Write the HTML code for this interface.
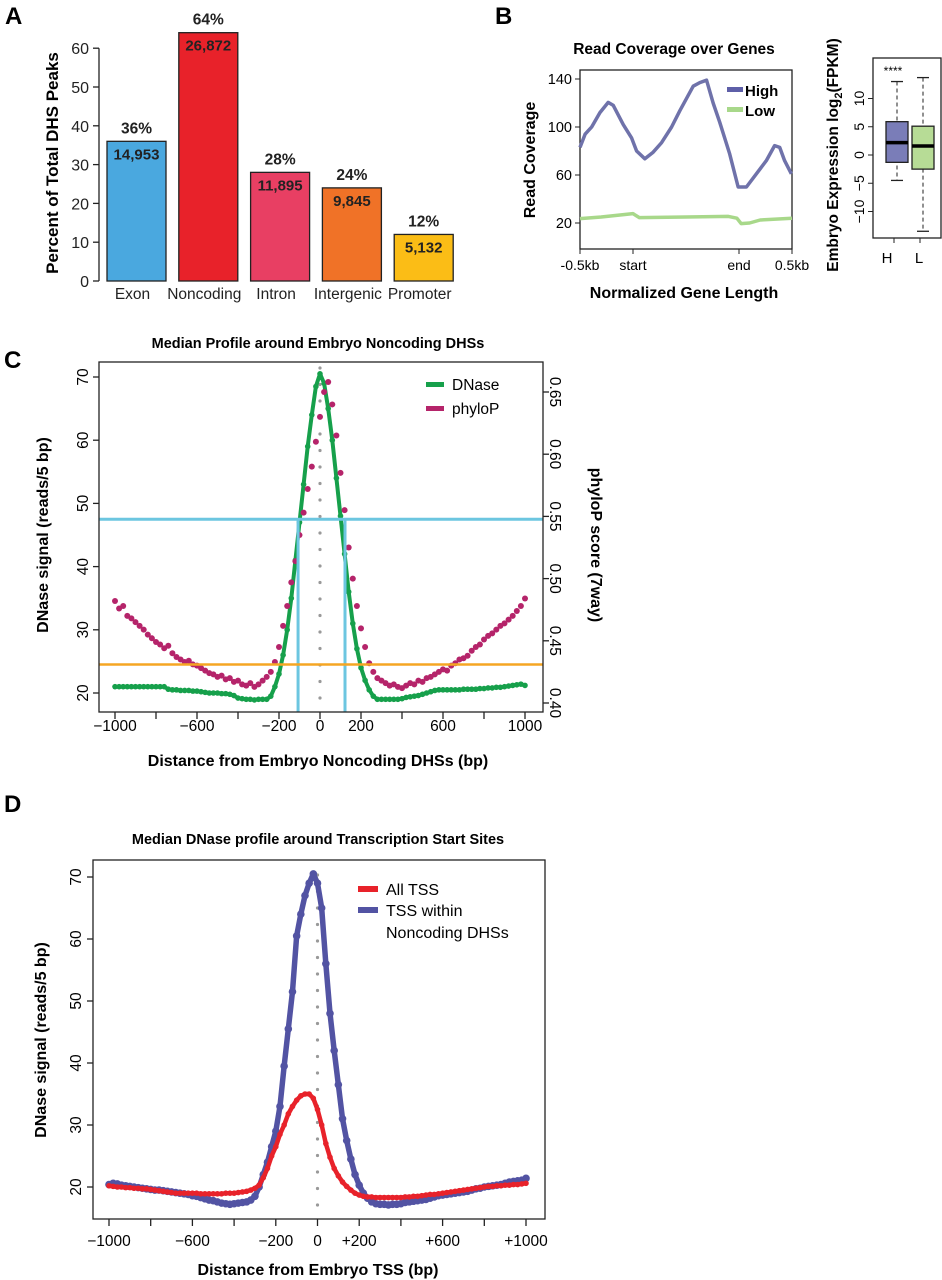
<!DOCTYPE html>
<html><head><meta charset="utf-8">
<style>
html,body{margin:0;padding:0;background:#fff;}
svg{display:block;font-family:"Liberation Sans",Arial,sans-serif;}
.b{font-weight:bold;}
</style></head>
<body>
<svg id="fig" width="942" height="1280" viewBox="0 0 942 1280" xmlns="http://www.w3.org/2000/svg">
<g id="pa"></g>
<g id="pb"></g>
<g id="pb2"></g>
<g id="pc"></g>
<g id="pd"></g>
</svg>
<script>
// ---------- Panel A data ----------
const aCategories = ["Exon","Noncoding","Intron","Intergenic","Promoter"];
const aPercents = [36,64,28,24,12];
const aCounts = ["14,953","26,872","11,895","9,845","5,132"];
const aColors = ["#4aa8df","#e8222a","#e83f63","#f07227","#fbbd16"];
const aTicks = [0,10,20,30,40,50,60];

// ---------- Panel B data ----------
const bHighPos = [0,0.024,0.055,0.094,0.133,0.157,0.204,0.243,0.267,0.306,0.345,0.385,0.432,0.471,0.534,0.565,0.597,0.628,0.659,0.706,0.746,0.785,0.832,0.879,0.918,0.942,0.965,0.997];
const bHighVals = [83,94,100,112,120.5,118,102,91,80,73.5,79,87,100,113.6,134,137,139,120,104,77.6,50,50,61,72,84.5,83,72,61];
const bLowPos = [0,0.1,0.25,0.28,0.5,0.7,0.74,0.76,0.8,0.85,1.0];
const bLowVals = [23.6,25,27.8,24.5,25,25.5,24,19.5,20,22.5,24];
const bYTicks = [20,60,100,140];
const bXTickPos = [0,0.25,0.75,1];
const bXTickLabels = ["-0.5kb","start","end","0.5kb"];
const boxGroups = ["H","L"];
const boxQ1 = [-1.3,-2.5];
const boxMed = [2.2,1.6];
const boxQ3 = [5.9,5.1];
const boxLow = [-4.5,-13.5];
const boxHigh = [13,13.7];
const boxColors = ["#7a7db8","#b7dc96"];
const boxTicks = [-10,-5,0,5,10];

// ---------- Panel C data ----------
const cDnase = [21,21,21,21,21,21,21,21,21,21,21,21,21,
20.6,20.5,20.5,20.4,20.4,20.4,20.3,20.3,20.2,20.1,
20,20,20,19.9,19.9,19.8,19.6,
19.2,19.1,19,19,18.9,19,19,19,
19.5,21,23,26,30,35,41,47,53,59,64,68.5,
70.5,
69,65,60,54,48,42,36,31,27,24,22,20.5,
19.5,19,19,19,19,19,19,19.1,
19.3,19.4,19.5,19.6,19.8,20,20.2,
20.4,20.5,20.5,20.5,20.5,20.5,20.5,20.6,20.6,20.6,20.6,
20.7,20.7,20.8,20.8,20.9,20.9,21,21.1,21.2,21.3,21.4,21.2];
const cPhylo = [0.482,0.476,0.478,0.470,0.468,0.465,0.462,0.459,0.455,0.452,0.449,0.447,0.444,0.446,0.440,0.437,0.435,0.433,0.434,0.431,0.430,0.428,0.426,0.424,0.423,0.421,0.422,0.419,0.420,0.417,0.418,0.415,0.414,0.416,0.413,0.415,0.418,0.421,0.425,0.433,0.445,0.462,0.478,0.497,0.514,0.535,0.553,0.572,0.590,0.610,0.630,0.650,0.658,0.640,0.615,0.585,0.555,0.525,0.500,0.478,0.460,0.445,0.432,0.425,0.420,0.418,0.416,0.414,0.415,0.413,0.412,0.414,0.416,0.415,0.418,0.417,0.420,0.421,0.423,0.425,0.427,0.426,0.430,0.432,0.435,0.436,0.438,0.442,0.445,0.447,0.451,0.454,0.456,0.459,0.462,0.464,0.467,0.470,0.474,0.478,0.484];
const cXTicks = [-1000,-800,-600,-400,-200,0,200,400,600,800,1000];
const cXLabels = [-1000,-600,-200,0,200,600,1000];
const cYTicks = [20,30,40,50,60,70];
const cY2Ticks = [0.40,0.45,0.50,0.55,0.60,0.65];
const cCyanY = 47.5;
const cCyanX = [-107,122];
const cOrangeY = 24.5;

// ---------- Panel D data ----------
const dBlue = [20.4,20.6,20.5,20.3,20.2,20.1,20,19.9,19.8,19.7,
19.6,19.5,19.5,19.4,19.3,19.2,19.1,19,18.9,18.8,
18.6,18.5,18.3,18.1,17.9,17.8,17.6,17.4,17.3,17.2,
17.3,17.4,17.5,17.6,17.9,18.5,20,
22,24,26.5,29,33,39.5,45.5,51.5,60.5,64,67,69,70.5,
69,
65,56,48,42,36.5,31,27.5,24.5,22,20.3,
19,18.2,17.6,17.3,17.2,17.2,17.1,17.2,17.2,17.3,
17.5,17.6,17.7,17.8,17.9,18,18.2,18.4,18.6,18.7,
18.8,18.9,19,19.1,19.2,19.3,19.5,19.7,19.8,20,
20.1,20.2,20.3,20.4,20.6,20.8,20.9,21,21.1,21.4];
const dRed = [20.2,20.1,20,20,19.9,19.9,19.8,19.8,19.7,19.7,
19.6,19.5,19.4,19.3,19.2,19.1,19,19,19,19,
19,19,18.9,18.9,18.9,18.9,18.9,18.9,19,19,
19,19.1,19.2,19.3,19.5,19.8,20.3,
21.5,23,25,26.5,28.5,30,31.8,33,34,34.7,35,35,34.3,
32.5,
30,27,24.8,23,21.8,20.8,20.1,19.5,19,18.7,
18.5,18.4,18.4,18.3,18.3,18.3,18.3,18.3,18.3,18.3,
18.4,18.4,18.5,18.5,18.6,18.7,18.8,18.8,18.9,19,
19.1,19.2,19.3,19.4,19.5,19.6,19.7,19.8,19.9,20,
20.1,20.1,20.2,20.2,20.3,20.3,20.4,20.4,20.5,20.6];
const dXTicks = [-1000,-800,-600,-400,-200,0,200,400,600,800,1000];
const dXLabels = ["\u22121000","\u2212600","\u2212200","0","+200","+600","+1000"];
const dXLabelVals = [-1000,-600,-200,0,200,600,1000];
const dYTicks = [20,30,40,50,60,70];

const NS = "http://www.w3.org/2000/svg";
function mk(parent, tag, attrs, text){
  const e = document.createElementNS(NS, tag);
  for (const k in attrs) e.setAttribute(k, attrs[k]);
  if (text !== undefined) e.textContent = text;
  parent.appendChild(e);
  return e;
}

// ================= Panel A =================
(function(){
  const g = document.getElementById('pa');
  const y = v => 281 - v * 3.88;
  const x0 = 107, step = 71.8, bw = 59;
  let t = mk(g,'text',{x:5,y:24,'font-size':24,class:'b'},'A');
  
  
  let ax = mk(g,'line',{x1:99,x2:99,y1:y(0),y2:y(60),stroke:'#222','stroke-width':1.3});
  
  
  aTicks.forEach(v=>{
    const tk = mk(g,'line',{x1:93,x2:99,y1:y(v),y2:y(v),stroke:'#222','stroke-width':1.3});
    
    
    const tl = mk(g,'text',{x:89,y:y(v)+6,'font-size':16,'text-anchor':'end',fill:'#222'},String(v));
    
    
  });
  const yl = mk(g,'text',{x:0,y:0,'font-size':17,class:'b','text-anchor':'middle',transform:'translate(58,163) rotate(-90)'},'Percent of Total DHS Peaks');
  
  
  aCategories.forEach((c,i)=>{
    const bx = x0 + i*step;
    const r = mk(g,'rect',{x:bx,y:y(aPercents[i]),width:bw,height:y(0)-y(aPercents[i]),fill:aColors[i],stroke:'#222','stroke-width':1.3});
    
    
    const p = mk(g,'text',{x:bx+bw/2,y:y(aPercents[i])-8,'font-size':15.5,class:'b','text-anchor':'middle',fill:'#222'},aPercents[i]+'%');
    
    
    const n = mk(g,'text',{x:bx+bw/2,y:y(aPercents[i])+18,'font-size':15,class:'b','text-anchor':'middle',fill:'#222'},aCounts[i]);
    
    
    const cl = mk(g,'text',{x:bx+bw/2-4,y:299,'font-size':15.5,'text-anchor':'middle',fill:'#222'},c);
    
    
  });
})();

// ================= Panel B =================
(function(){
  const g = document.getElementById('pb');
  const L=580,R=792,T=70,B=249;
  const x = p => L + p*(R-L);
  const y = v => 223 - (v-20)*1.2;
  let t = mk(g,'text',{x:495,y:24,'font-size':24,class:'b'},'B');
  
  
  const ti = mk(g,'text',{x:674,y:54,'font-size':15.5,class:'b','text-anchor':'middle'},'Read Coverage over Genes');
  
  
  const fr = mk(g,'rect',{x:L,y:T,width:R-L,height:B-T,fill:'none',stroke:'#222','stroke-width':1.3});
  
  
  bYTicks.forEach(v=>{
    const tk=mk(g,'line',{x1:L,x2:L-5,y1:y(v),y2:y(v),stroke:'#222'});
    
    
    const tl=mk(g,'text',{x:L-8,y:y(v)+5,'font-size':14.5,'text-anchor':'end'},String(v));
    
    
  });
  bXTickPos.forEach((p,i)=>{
    const tk=mk(g,'line',{x1:x(p),x2:x(p),y1:B,y2:B+5,stroke:'#222'});
    
    
    const tl=mk(g,'text',{x:x(p),y:270,'font-size':14,'text-anchor':'middle'},bXTickLabels[i]);
    
    
  });
  const xl=mk(g,'text',{x:684,y:298,'font-size':16,class:'b','text-anchor':'middle'},'Normalized Gene Length');
  
  
  const yl=mk(g,'text',{x:0,y:0,'font-size':16,class:'b','text-anchor':'middle',transform:'translate(535,160) rotate(-90)'},'Read Coverage');
  
  
  const lp = mk(g,'polyline',{points:bLowPos.map((p,i)=>x(p)+','+y(bLowVals[i])).join(' '),fill:'none',stroke:'#a8d88a','stroke-width':3.5,'stroke-linejoin':'round'});
  
  
  const hp = mk(g,'polyline',{points:bHighPos.map((p,i)=>x(p)+','+y(bHighVals[i])).join(' '),fill:'none',stroke:'#6f72aa','stroke-width':3.5,'stroke-linejoin':'round'});
  
  
  const l1=mk(g,'rect',{x:727,y:87,width:16,height:5,fill:'#5e5fa8'});
  
  
  const l1t=mk(g,'text',{x:745,y:96,'font-size':15,class:'b'},'High');
  
  
  const l2=mk(g,'rect',{x:727,y:107,width:16,height:5,fill:'#a8d88a'});
  
  
  const l2t=mk(g,'text',{x:745,y:116,'font-size':15,class:'b'},'Low');
  
  

  // boxplot
  const g2 = document.getElementById('pb2');
  const bL=873,bR=942,bT=58,bB=238;
  const yb = v => 155 - v*5.65;
  const cx = [897,923];
  const fr2=mk(g2,'rect',{x:bL,y:bT,width:bR-bL-1,height:bB-bT,fill:'none',stroke:'#222','stroke-width':1.3});
  
  
  boxTicks.forEach(v=>{
    const tk=mk(g2,'line',{x1:bL,x2:bL-5,y1:yb(v),y2:yb(v),stroke:'#222'});
    
    
    const tl=mk(g2,'text',{x:0,y:0,'font-size':14,'text-anchor':'middle',transform:'translate('+(bL-9)+','+yb(v)+') rotate(-90)'},v<0?'\u2212'+(-v):String(v));
    
    
  });
  const byl=mk(g2,'text',{x:0,y:0,'font-size':15.5,class:'b','text-anchor':'middle',transform:'translate(838,155) rotate(-90)'});
  
  
  byl.innerHTML = 'Embryo Expression log<tspan dy="4" font-size="11">2</tspan><tspan dy="-4">(FPKM)</tspan>';
  boxGroups.forEach((gname,i)=>{
    const c=cx[i];
    const w=mk(g2,'line',{x1:c,x2:c,y1:yb(boxHigh[i]),y2:yb(boxLow[i]),stroke:'#222','stroke-dasharray':'4,3'});
    
    
    [boxHigh[i],boxLow[i]].forEach(v=>{
      const cap=mk(g2,'line',{x1:c-6,x2:c+6,y1:yb(v),y2:yb(v),stroke:'#222','stroke-width':1.3});
      
      
    });
    const bx=mk(g2,'rect',{x:c-11,y:yb(boxQ3[i]),width:22,height:yb(boxQ1[i])-yb(boxQ3[i]),fill:boxColors[i],stroke:'#222','stroke-width':1.3});
    
    
    const md=mk(g2,'line',{x1:c-11,x2:c+11,y1:yb(boxMed[i]),y2:yb(boxMed[i]),stroke:'#000','stroke-width':3.5});
    
    
    const tk=mk(g2,'line',{x1:c-3,x2:c-3,y1:bB,y2:bB+5,stroke:'#222'});
    
    
    const tl=mk(g2,'text',{x:c-10+i*6,y:263,'font-size':15,'text-anchor':'middle'},gname);
    
    
  });
  const st=mk(g2,'text',{x:893,y:75,'font-size':12,'text-anchor':'middle'},'****');
  
  
})();

// ================= Panel C =================
(function(){
  const g = document.getElementById('pc');
  const L=99,R=543,T=362,B=712;
  const x = v => 320 + v*0.205;
  const y = v => 693 - (v-20)*6.32;
  const y2 = v => 703 - (v-0.40)*1244;
  let t=mk(g,'text',{x:4,y:368,'font-size':24,class:'b'},'C');
  
  
  const ti=mk(g,'text',{x:318,y:348,'font-size':14.5,class:'b','text-anchor':'middle'},'Median Profile around Embryo Noncoding DHSs');
  
  
  for(let yy=T+6; yy<B; yy+=16.5){
    const d=mk(g,'circle',{cx:x(0),cy:yy,r:1.6,fill:'#999'});
    
    
  }
  const dl=mk(g,'polyline',{points:cDnase.map((v,i)=>x(-1000+i*20)+','+y(v)).join(' '),fill:'none',stroke:'#16a04b','stroke-width':4,'stroke-linejoin':'round'});
  
  
  cDnase.forEach((v,i)=>{
    const d=mk(g,'circle',{cx:x(-1000+i*20),cy:y(v),r:2.8,fill:'#16a04b'});
    
    
  });
  cPhylo.forEach((v,i)=>{
    const d=mk(g,'circle',{cx:x(-1000+i*20),cy:y2(v),r:3,fill:'#b5246a'});
    
    
  });
  const ch=mk(g,'line',{x1:L,x2:R,y1:y(cCyanY),y2:y(cCyanY),stroke:'#6cc6e0','stroke-width':3});
  
  
  cCyanX.forEach(v=>{
    const cv=mk(g,'line',{x1:x(v),x2:x(v),y1:y(cCyanY),y2:B,stroke:'#6cc6e0','stroke-width':3});
    
    
  });
  const oh=mk(g,'line',{x1:L,x2:R,y1:y(cOrangeY),y2:y(cOrangeY),stroke:'#f5a623','stroke-width':2.5});
  
  
  const fr=mk(g,'rect',{x:L,y:T,width:R-L,height:B-T,fill:'none',stroke:'#222','stroke-width':1.3});
  
  
  cXTicks.forEach(v=>{
    const tk=mk(g,'line',{x1:x(v),x2:x(v),y1:B,y2:B+7,stroke:'#222','stroke-width':1.3});
    
    
  });
  cXLabels.forEach(v=>{
    const tl=mk(g,'text',{x:x(v),y:731,'font-size':15.5,'text-anchor':'middle'},v<0?'\u2212'+(-v):String(v));
    
    
  });
  cYTicks.forEach(v=>{
    const tk=mk(g,'line',{x1:L,x2:L-6,y1:y(v),y2:y(v),stroke:'#222','stroke-width':1.3});
    
    
    const tl=mk(g,'text',{x:0,y:0,'font-size':15.5,'text-anchor':'middle',transform:'translate(88,'+y(v)+') rotate(-90)'},String(v));
    
    
  });
  cY2Ticks.forEach(v=>{
    const tk=mk(g,'line',{x1:R,x2:R+6,y1:y2(v),y2:y2(v),stroke:'#222','stroke-width':1.3});
    
    
    const tl=mk(g,'text',{x:0,y:0,'font-size':15.5,'text-anchor':'middle',transform:'translate(550,'+y2(v)+') rotate(90)'},v.toFixed(2));
    
    
  });
  const yl=mk(g,'text',{x:0,y:0,'font-size':16,class:'b','text-anchor':'middle',transform:'translate(48,535) rotate(-90)'},'DNase signal (reads/5 bp)');
  
  
  const y2l=mk(g,'text',{x:0,y:0,'font-size':16,class:'b','text-anchor':'middle',transform:'translate(591,545) rotate(90)'},'phyloP score (7way)');
  
  
  const xl=mk(g,'text',{x:318,y:766,'font-size':16,class:'b','text-anchor':'middle'},'Distance from Embryo Noncoding DHSs (bp)');
  
  
  const s1=mk(g,'rect',{x:426,y:382,width:18,height:5,fill:'#16a04b'});
  
  
  const t1=mk(g,'text',{x:452,y:390,'font-size':15.5},'DNase');
  
  
  const s2=mk(g,'rect',{x:426,y:406,width:18,height:5,fill:'#b5246a'});
  
  
  const t2=mk(g,'text',{x:452,y:414,'font-size':15.5},'phyloP');
  
  
})();

// ================= Panel D =================
(function(){
  const g = document.getElementById('pd');
  const L=93,R=545,T=860,B=1219;
  const x = v => 317.5 + v*0.2085;
  const y = v => 1187 - (v-20)*6.2;
  let t=mk(g,'text',{x:4,y:812,'font-size':24,class:'b'},'D');
  
  
  const ti=mk(g,'text',{x:318,y:844,'font-size':14.5,class:'b','text-anchor':'middle'},'Median DNase profile around Transcription Start Sites');
  
  
  for(let yy=T+15; yy<B; yy+=16.5){
    const d=mk(g,'circle',{cx:x(0),cy:yy,r:1.6,fill:'#999'});
    
    
  }
  const bl=mk(g,'polyline',{points:dBlue.map((v,i)=>x(-1000+i*20)+','+y(v)).join(' '),fill:'none',stroke:'#5253a3','stroke-width':5.5,'stroke-linejoin':'round'});
  
  
  dBlue.forEach((v,i)=>{
    const d=mk(g,'circle',{cx:x(-1000+i*20),cy:y(v),r:3.8,fill:'#5253a3'});
    
    
  });
  const rl=mk(g,'polyline',{points:dRed.map((v,i)=>x(-1000+i*20)+','+y(v)).join(' '),fill:'none',stroke:'#e8222a','stroke-width':4.5,'stroke-linejoin':'round'});
  
  
  dRed.forEach((v,i)=>{
    const d=mk(g,'circle',{cx:x(-1000+i*20),cy:y(v),r:2.8,fill:'#e8222a'});
    
    
  });
  const fr=mk(g,'rect',{x:L,y:T,width:R-L,height:B-T,fill:'none',stroke:'#222','stroke-width':1.3});
  
  
  dXTicks.forEach(v=>{
    const tk=mk(g,'line',{x1:x(v),x2:x(v),y1:B,y2:B+7,stroke:'#222','stroke-width':1.3});
    
    
  });
  dXLabelVals.forEach((v,i)=>{
    const tl=mk(g,'text',{x:x(v),y:1246,'font-size':15.5,'text-anchor':'middle'},dXLabels[i]);
    
    
  });
  dYTicks.forEach(v=>{
    const tk=mk(g,'line',{x1:L,x2:L-6,y1:y(v),y2:y(v),stroke:'#222','stroke-width':1.3});
    
    
    const tl=mk(g,'text',{x:0,y:0,'font-size':15.5,'text-anchor':'middle',transform:'translate(81,'+y(v)+') rotate(-90)'},String(v));
    
    
  });
  const yl=mk(g,'text',{x:0,y:0,'font-size':16,class:'b','text-anchor':'middle',transform:'translate(46,1040) rotate(-90)'},'DNase signal (reads/5 bp)');
  
  
  const xl=mk(g,'text',{x:318,y:1275,'font-size':16,class:'b','text-anchor':'middle'},'Distance from Embryo TSS (bp)');
  
  
  const s1=mk(g,'rect',{x:358,y:886,width:20,height:6,fill:'#e8222a'});
  
  
  const t1=mk(g,'text',{x:386,y:895,'font-size':16},'All TSS');
  
  
  const s2=mk(g,'rect',{x:358,y:907,width:20,height:6,fill:'#5253a3'});
  
  
  const t2=mk(g,'text',{x:386,y:916,'font-size':16},'TSS within');
  
  
  const t3=mk(g,'text',{x:386,y:938,'font-size':16},'Noncoding DHSs');
  
  
})();
</script>
</body></html>
